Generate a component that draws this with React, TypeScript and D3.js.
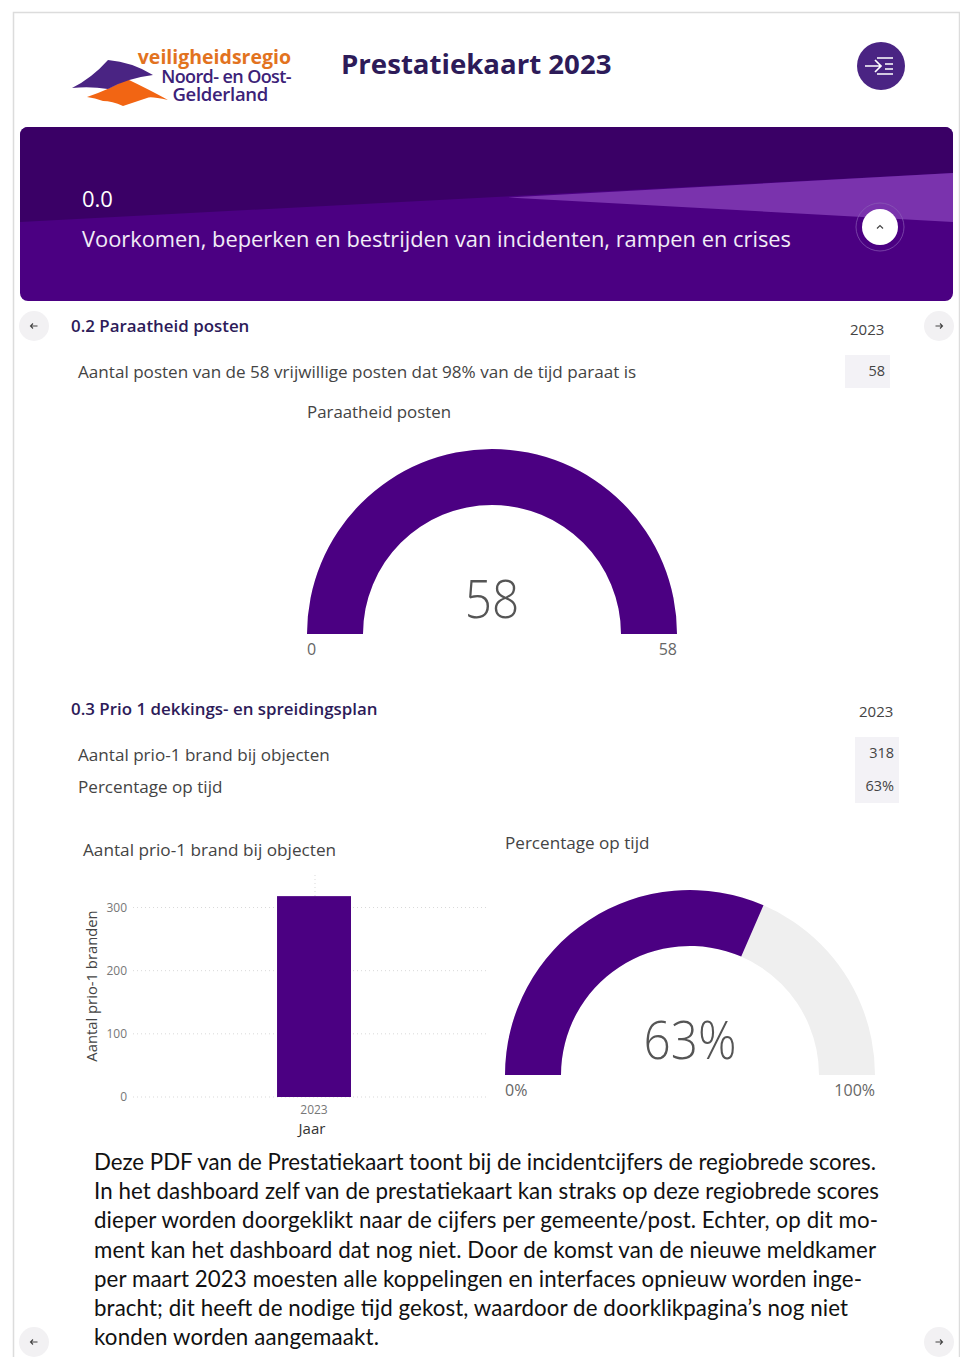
import { useEffect, useRef } from "react";
import * as d3 from "d3";

const years = ["2023"];
const branden = [318];
const yTicks = [0, 100, 200, 300];
const paraatheid = { value: 58, min: 0, max: 58 };
const opTijd = { value: 63, min: 0, max: 100 };
const paragraph = [
  "Deze PDF van de Prestatiekaart toont bij de incidentcijfers de regiobrede scores.",
  "In het dashboard zelf van de prestatiekaart kan straks op deze regiobrede scores",
  "dieper worden doorgeklikt naar de cijfers per gemeente/post. Echter, op dit mo-",
  "ment kan het dashboard dat nog niet. Door de komst van de nieuwe meldkamer",
  "per maart 2023 moesten alle koppelingen en interfaces opnieuw worden inge-",
  "bracht; dit heeft de nodige tijd gekost, waardoor de doorklikpagina’s nog niet",
  "konden worden aangemaakt.",
];
const paragraphWidths = [782, 785, 784, 782, 768, 754, 285];

const PURPLE = "#4b0082";
const SANS = "'Open Sans', sans-serif";

type Sel = d3.Selection<SVGGElement, unknown, null, undefined>;

function label(
  g: Sel,
  x: number,
  y: number,
  text: string,
  size: number,
  fill = "#444",
  anchor = "start",
  weight = 400
) {
  return g
    .append("text")
    .attr("x", x)
    .attr("y", y)
    .attr("text-anchor", anchor)
    .attr("fill", fill)
    .style("font-size", `${size}px`)
    .style("font-weight", weight)
    .text(text);
}

function gauge(
  g: Sel,
  cx: number,
  cy: number,
  d: { value: number; min: number; max: number },
  center: string,
  minLabel: string,
  maxLabel: string
) {
  const angle = d3
    .scaleLinear()
    .domain([d.min, d.max])
    .range([-Math.PI / 2, Math.PI / 2]);
  const arc = d3.arc<{ startAngle: number; endAngle: number }>().innerRadius(129).outerRadius(185);
  const root = g.append("g").attr("transform", `translate(${cx},${cy})`);

  root
    .append("path")
    .attr("d", arc({ startAngle: angle(d.min), endAngle: angle(d.max) }))
    .attr("fill", "#efefef");
  root
    .append("path")
    .attr("d", arc({ startAngle: angle(d.min), endAngle: angle(d.value) }))
    .attr("fill", PURPLE);

  // Segoe Light digits are narrower than Open Sans
  label(root, 0, 0, center, 53, "#555", "middle", 300).attr("transform", "translate(0,-16) scale(0.9,1)");
  label(root, -185, 21, minLabel, 16, "#666");
  label(root, 185, 21, maxLabel, 16, "#666", "end");
}

function barChart(g: Sel) {
  const x = d3
    .scaleBand<string>()
    .domain(years)
    .range([133, 488])
    .paddingInner(0)
    .paddingOuter(1.9)
    .align(0.5125);
  const y = d3.scaleLinear().domain([0, 300]).range([1097, 907.5]);

  const axis = g.append("g");
  axis
    .selectAll("line.grid")
    .data(yTicks)
    .join("line")
    .attr("class", "grid")
    .attr("x1", 133)
    .attr("x2", 488)
    .attr("y1", (d) => y(d))
    .attr("y2", (d) => y(d))
    .attr("stroke", "#d9d9d9")
    .attr("stroke-dasharray", "1 3");
  axis
    .selectAll("text.tick")
    .data(yTicks)
    .join("text")
    .attr("class", "tick")
    .attr("x", 127)
    .attr("y", (d) => y(d))
    .attr("dy", "0.35em")
    .attr("text-anchor", "end")
    .attr("fill", "#777")
    .style("font-size", "12px")
    .text((d) => d);

  g.append("line")
    .attr("x1", 315)
    .attr("x2", 315)
    .attr("y1", 875)
    .attr("y2", 896)
    .attr("stroke", "#d9d9d9")
    .attr("stroke-dasharray", "1 3");

  g.selectAll("rect.bar")
    .data(branden)
    .join("rect")
    .attr("class", "bar")
    .attr("x", (_, i) => x(years[i]) || 0)
    .attr("y", (d) => y(d))
    .attr("width", x.bandwidth())
    .attr("height", (d) => y(0) - y(d))
    .attr("fill", PURPLE);

  label(g, 314, 1114, years[0], 12, "#777", "middle");
  label(g, 312, 1134, "Jaar", 15, "#333", "middle");
  label(g, 0, 0, "Aantal prio-1 branden", 14.8, "#444", "middle").attr(
    "transform",
    "translate(97,986) rotate(-90)"
  );
}

function smallButton(g: Sel, cx: number, cy: number, dir: number) {
  g.append("circle").attr("cx", cx).attr("cy", cy).attr("r", 15).attr("fill", "#f2f1f3");
  g.append("path")
    .attr("d", `M${cx - 3.5},${cy}H${cx + 3.5}M${cx + dir * 3.5 - dir * 2.5},${cy - 2.5}L${cx + dir * 3.5},${cy}L${cx + dir * 3.5 - dir * 2.5},${cy + 2.5}`)
    .attr("fill", "none")
    .attr("stroke", "#444")
    .attr("stroke-width", 1.1);
}

function valueBox(g: Sel, x: number, y: number, w: number, h: number) {
  g.append("rect").attr("x", x).attr("y", y).attr("width", w).attr("height", h).attr("fill", "#f3f2f6");
}

function header(g: Sel) {
  g.append("rect")
    .attr("x", 13.5)
    .attr("y", 12.5)
    .attr("width", 946)
    .attr("height", 1350)
    .attr("fill", "#fff")
    .attr("stroke", "#dcdcdc")
    .attr("stroke-width", 1.5);

  // logo
  g.append("path")
    .attr("d", "M87,97 Q108,90 127,79 Q150,90 168,100 Q150,96 147,98 Q135,102 123,106 Q112,101 103,101 Q95,98 87,97Z")
    .attr("fill", "#f26513");
  g.append("path")
    .attr("d", "M72,88 Q92,78 108,60 Q132,62 153,75 Q128,78 108,89 Q90,86 72,88Z")
    .attr("fill", "#4a2483");
  label(g, 291, 64, "veiligheidsregio", 19.5, "#e2731f", "end", 700);
  label(g, 291, 83, "Noord- en Oost-", 18, "#3c2278", "end", 600).style("letter-spacing", "-0.6px");
  label(g, 268, 101, "Gelderland", 18.5, "#3c2278", "end", 600).style("letter-spacing", "-0.3px");

  label(g, 341, 74, "Prestatiekaart 2023", 27.6, "#2d1b59", "start", 700);

  g.append("circle").attr("cx", 881).attr("cy", 66).attr("r", 24).attr("fill", "#4a2483");
  g.append("path")
    .attr("d", "M865,66H880M875,60L881,66L875,72M877,58H893M885,64H893M885,69H893M877,74H893")
    .attr("fill", "none")
    .attr("stroke", "#fff")
    .attr("stroke-width", 1.7);

  // banner
  const defs = g.append("defs");
  defs
    .append("clipPath")
    .attr("id", "banner-clip")
    .append("rect")
    .attr("x", 20)
    .attr("y", 127)
    .attr("width", 933)
    .attr("height", 174)
    .attr("rx", 8);
  const banner = g.append("g").attr("clip-path", "url(#banner-clip)");
  banner.append("rect").attr("x", 20).attr("y", 127).attr("width", 933).attr("height", 174).attr("fill", PURPLE);
  banner.append("path").attr("d", "M20,127H953V173L20,222Z").attr("fill", "#3a0066");
  banner.append("path").attr("d", "M508,197.5L953,173V222Z").attr("fill", "#7a33ad");

  label(g, 82, 207, "0.0", 22, "#fff");
  label(g, 82, 247, "Voorkomen, beperken en bestrijden van incidenten, rampen en crises", 21.85, "#f2ecf7");

  g.append("circle").attr("cx", 880).attr("cy", 227).attr("r", 24).attr("fill", "none").attr("stroke", "#8a5cb5").attr("stroke-width", 0.7);
  g.append("circle").attr("cx", 880).attr("cy", 227).attr("r", 18).attr("fill", "#fff");
  g.append("path").attr("d", "M877,228.5L880,225.5L883,228.5").attr("fill", "none").attr("stroke", "#444").attr("stroke-width", 1.2);
}

export default function App() {
  const svgRef = useRef<SVGSVGElement | null>(null);

  useEffect(() => {
    if (!svgRef.current) return;
    d3.select(svgRef.current).selectAll("*").remove();
    const g = d3.select(svgRef.current).append("g").style("font-family", SANS) as unknown as Sel;

    header(g);

    // 0.2
    smallButton(g, 34, 326, -1);
    smallButton(g, 939, 326, 1);
    label(g, 71, 332, "0.2 Paraatheid posten", 16.9, "#2d1b59", "start", 600);
    label(g, 850, 335, "2023", 15, "#444");
    label(g, 78, 378, "Aantal posten van de 58 vrijwillige posten dat 98% van de tijd paraat is", 17.1, "#444");
    valueBox(g, 845, 355, 45, 33);
    label(g, 885, 376, "58", 14.5, "#444", "end");
    label(g, 307, 418, "Paraatheid posten", 16.85, "#444");
    gauge(g, 492, 634, paraatheid, "58", "0", "58");

    // 0.3
    label(g, 71, 715, "0.3 Prio 1 dekkings- en spreidingsplan", 16.9, "#2d1b59", "start", 600);
    label(g, 859, 717, "2023", 15, "#444");
    label(g, 78, 761, "Aantal prio-1 brand bij objecten", 17.1, "#444");
    label(g, 78, 793, "Percentage op tijd", 17.1, "#444");
    valueBox(g, 855, 737, 44, 66);
    label(g, 894, 758, `${branden[0]}`, 14.5, "#444", "end");
    label(g, 894, 791, `${opTijd.value}%`, 14.5, "#444", "end");

    label(g, 83, 856, "Aantal prio-1 brand bij objecten", 17.2, "#444");
    label(g, 505, 849, "Percentage op tijd", 17.1, "#444");

    barChart(g);
    gauge(g, 690, 1075, opTijd, `${opTijd.value}%`, "0%", "100%");

    // toelichting
    paragraph.forEach((line, i) => {
      label(g, 94, 1170 + i * 29.2, line, 22.3, "#111")
        .style("font-family", "Lato, sans-serif")
        .attr("textLength", paragraphWidths[i]);
    });
    smallButton(g, 34, 1342, -1);
    smallButton(g, 939, 1342, 1);
  }, []);

  return (
    <svg
      ref={svgRef}
      width={960}
      height={1357}
      style={{ position: "absolute", left: 0, top: 0, background: "#fff" }}
    />
  );
}
